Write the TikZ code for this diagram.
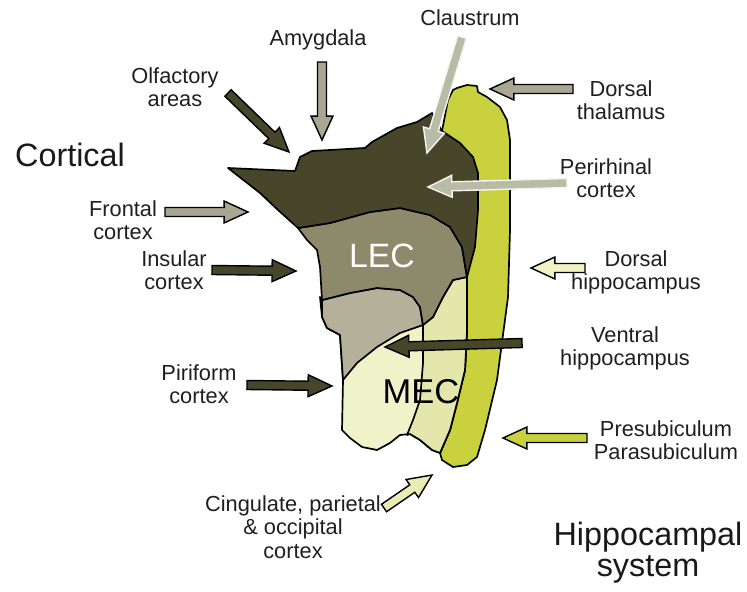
\documentclass[tikz,border=0pt]{standalone}
\usepackage{fontspec}
\setmainfont{Liberation Sans}
\usepackage{xcolor}
\usetikzlibrary{calc}

\definecolor{darkec}{RGB}{71,70,43}
\definecolor{lecgrey}{RGB}{141,138,107}
\definecolor{midgrey}{RGB}{180,176,154}
\definecolor{paleec}{RGB}{240,242,202}
\definecolor{palemid}{RGB}{228,231,171}
\definecolor{subyellow}{RGB}{201,209,62}
\definecolor{tanarrow}{RGB}{169,167,147}
\definecolor{lightarrow}{RGB}{184,187,166}
\definecolor{palearrow}{RGB}{242,242,196}
\definecolor{cinarrow}{RGB}{233,237,181}

% fat outlined arrow from #2 to #3
\newcommand{\blockarrow}[3][]{%
  \path ($(#3)!17pt!(#2)$) coordinate (hb);
  \filldraw[line width=1pt, line join=miter, #1]
    ($(#2)!3.2pt!90:(#3)$) -- ($(hb)!3.2pt!90:(#3)$) -- ($(hb)!7.8pt!90:(#3)$)
    -- (#3) -- ($(hb)!7.8pt!-90:(#3)$) -- ($(hb)!3.2pt!-90:(#3)$)
    -- ($(#2)!3.2pt!-90:(#3)$) -- cycle;
}

\begin{document}
\begin{tikzpicture}[x=0.025cm, y=-0.025cm,
  region/.style={draw=black, line width=1.2pt, line join=round},
  lbl/.style={font=\fontsize{15.5}{16.5}\selectfont, text=black!88, align=center},
  biglbl/.style={font=\fontsize{23}{22}\selectfont, text=black!90, align=center}]
\useasboundingbox (0,0) rectangle (747,591);

% subiculum band
\filldraw[region, fill=subyellow] (453,90) -- (457,88) -- (467,85) -- (477,86) -- (478,92)
  -- (487,97) -- (500,107) -- (507,120) -- (510,140) -- (510,230) -- (508,297)
  -- (497,380) -- (485,430) -- (477,457) -- (467,465) -- (453,467) -- (442,460)
  -- (440,453) -- (450,430) -- (457,403) -- (465,370) -- (467,330) -- (467,277)
  -- (470,200) -- (460,150) -- (442,131) -- (448,100) -- cycle;

% MEC
\filldraw[region, fill=paleec] (320,297) -- (322,317) -- (327,328) -- (340,335)
  -- (343,380) -- (342,430) -- (350,438) -- (362,447) -- (377,450) -- (390,443)
  -- (400,435) -- (410,434) -- (420,440) -- (432,450) -- (440,453) -- (450,430)
  -- (457,403) -- (465,370) -- (467,330) -- (467,277) -- (453,280) -- (443,297)
  -- (433,317) -- (423,325) -- (420,307) -- (413,297) -- (400,290) -- (377,288)
  -- (350,293) -- (322,300) -- cycle;
\filldraw[region, fill=palemid] (423,325) -- (423,363) -- (420,400) -- (413,420)
  -- (407,435) -- (410,434) -- (420,440) -- (432,450) -- (440,453) -- (450,430)
  -- (457,403) -- (465,370) -- (467,330) -- (467,277) -- (453,280) -- (443,297)
  -- (433,317) -- cycle;
\filldraw[region, fill=midgrey] (322,300) -- (350,293) -- (377,288) -- (400,290)
  -- (413,297) -- (420,307) -- (423,325) -- (400,333) -- (377,347) -- (357,363)
  -- (343,380) -- (340,335) -- (327,328) -- (322,317) -- cycle;

% LEC
\filldraw[region, fill=lecgrey] (298,228) -- (330,223) -- (370,212) -- (400,208)
  -- (430,215) -- (450,227) -- (462,247) -- (467,277) -- (453,280) -- (443,297)
  -- (433,317) -- (423,325) -- (420,307) -- (413,297) -- (400,290) -- (377,288)
  -- (350,293) -- (322,300) -- (320,267) -- (317,250) -- (307,240) -- cycle;
\filldraw[region, fill=darkec] (228,168) -- (295,171) -- (300,157) -- (312,151)
  -- (365,148) -- (372,142) -- (397,128) -- (417,122) -- (432,113) -- (442,131)
  -- (460,143) -- (473,157) -- (478,173) -- (478,210) -- (475,247) -- (467,277)
  -- (462,247) -- (450,227) -- (430,215) -- (400,208) -- (370,212) -- (330,223)
  -- (298,228) -- (278,210) -- (260,193) -- cycle;

\node[font=\fontsize{24}{24}\selectfont, text=white] (lec) at (382,256) {LEC};
\node[font=\fontsize{24.5}{24}\selectfont, text=black] (mec) at (421,392) {MEC};

% labels
\node[biglbl] (cortical) at (70,155) {Cortical};
\node[biglbl] (hippocampal) at (648,553) {Hippocampal\\system};
\node[lbl] (olfactory) at (175,87) {Olfactory\\areas};
\node[lbl] (amygdala) at (318,40) {Amygdala};
\node[lbl] (claustrum) at (470,18) {Claustrum};
\node[lbl] (thalamus) at (621,100) {Dorsal\\thalamus};
\node[lbl] (perirhinal) at (606,178) {Perirhinal\\cortex};
\node[lbl] (frontal) at (123,220) {Frontal\\cortex};
\node[lbl] (insular) at (174,270) {Insular\\cortex};
\node[lbl] (dhippo) at (636,272) {Dorsal\\hippocampus};
\node[lbl] (vhippo) at (625,348) {Ventral\\hippocampus};
\node[lbl] (piriform) at (199,384) {Piriform\\cortex};
\node[lbl] (presub) at (666,440) {Presubiculum\\Parasubiculum};
\node[lbl] (cingulate) at (293,527) {Cingulate, parietal\\\& occipital\\cortex};

% arrow ends
\coordinate (olf-s) at (228,93);  \coordinate (olf-e) at (289,152);
\coordinate (amy-s) at (322,62);  \coordinate (amy-e) at (322,140);
\coordinate (cla-s) at (462,37);  \coordinate (cla-e) at (427,153);
\coordinate (tha-s) at (573,89);  \coordinate (tha-e) at (490,89);
\coordinate (per-s) at (567,183); \coordinate (per-e) at (428,187);
\coordinate (fro-s) at (165,212); \coordinate (fro-e) at (248,212);
\coordinate (ins-s) at (212,270); \coordinate (ins-e) at (296,271);
\coordinate (dhi-s) at (585,268); \coordinate (dhi-e) at (531,268);
\coordinate (vhi-s) at (522,343); \coordinate (vhi-e) at (385,347);
\coordinate (pir-s) at (247,385); \coordinate (pir-e) at (332,386);
\coordinate (pre-s) at (587,438); \coordinate (pre-e) at (503,438);
\coordinate (cin-s) at (384,508); \coordinate (cin-e) at (432,475);

% projections
\foreach \a/\c in {olf/darkec, amy/tanarrow, tha/tanarrow, fro/tanarrow,
    ins/darkec, dhi/palearrow, vhi/darkec, pir/darkec, pre/subyellow, cin/cinarrow} {
  \blockarrow[fill=\c, draw=black]{\a-s}{\a-e}
}
\foreach \a in {cla, per} {
  \blockarrow[fill=lightarrow, draw=white!85!lightarrow]{\a-s}{\a-e}
}
\end{tikzpicture}
\end{document}
